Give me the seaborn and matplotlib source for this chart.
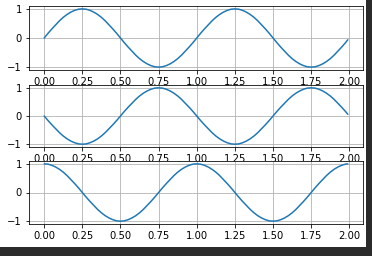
import matplotlib
matplotlib.use("Agg")
import matplotlib.pyplot as plt
from matplotlib.patches import Rectangle
import seaborn as sns
import pandas as pd

# time samples (0 .. 1.975 every 0.025, last at 1.99)
t = [0.0, 0.025, 0.05, 0.075, 0.1, 0.125, 0.15, 0.175, 0.2, 0.225,
     0.25, 0.275, 0.3, 0.325, 0.35, 0.375, 0.4, 0.425, 0.45, 0.475,
     0.5, 0.525, 0.55, 0.575, 0.6, 0.625, 0.65, 0.675, 0.7, 0.725,
     0.75, 0.775, 0.8, 0.825, 0.85, 0.875, 0.9, 0.925, 0.95, 0.975,
     1.0, 1.025, 1.05, 1.075, 1.1, 1.125, 1.15, 1.175, 1.2, 1.225,
     1.25, 1.275, 1.3, 1.325, 1.35, 1.375, 1.4, 1.425, 1.45, 1.475,
     1.5, 1.525, 1.55, 1.575, 1.6, 1.625, 1.65, 1.675, 1.7, 1.725,
     1.75, 1.775, 1.8, 1.825, 1.85, 1.875, 1.9, 1.925, 1.95, 1.975,
     1.99]

top_values = [0.0, 0.16, 0.31, 0.45, 0.59, 0.71, 0.81, 0.89, 0.95, 0.99,
              1.0, 0.99, 0.95, 0.89, 0.81, 0.71, 0.59, 0.45, 0.31, 0.16,
              0.0, -0.16, -0.31, -0.45, -0.59, -0.71, -0.81, -0.89, -0.95, -0.99,
              -1.0, -0.99, -0.95, -0.89, -0.81, -0.71, -0.59, -0.45, -0.31, -0.16,
              0.0, 0.16, 0.31, 0.45, 0.59, 0.71, 0.81, 0.89, 0.95, 0.99,
              1.0, 0.99, 0.95, 0.89, 0.81, 0.71, 0.59, 0.45, 0.31, 0.16,
              0.0, -0.16, -0.31, -0.45, -0.59, -0.71, -0.81, -0.89, -0.95, -0.99,
              -1.0, -0.99, -0.95, -0.89, -0.81, -0.71, -0.59, -0.45, -0.31, -0.16,
              -0.06]

middle_values = [0.0, -0.16, -0.31, -0.45, -0.59, -0.71, -0.81, -0.89, -0.95, -0.99,
                 -1.0, -0.99, -0.95, -0.89, -0.81, -0.71, -0.59, -0.45, -0.31, -0.16,
                 0.0, 0.16, 0.31, 0.45, 0.59, 0.71, 0.81, 0.89, 0.95, 0.99,
                 1.0, 0.99, 0.95, 0.89, 0.81, 0.71, 0.59, 0.45, 0.31, 0.16,
                 0.0, -0.16, -0.31, -0.45, -0.59, -0.71, -0.81, -0.89, -0.95, -0.99,
                 -1.0, -0.99, -0.95, -0.89, -0.81, -0.71, -0.59, -0.45, -0.31, -0.16,
                 0.0, 0.16, 0.31, 0.45, 0.59, 0.71, 0.81, 0.89, 0.95, 0.99,
                 1.0, 0.99, 0.95, 0.89, 0.81, 0.71, 0.59, 0.45, 0.31, 0.16,
                 0.06]

bottom_values = [1.0, 0.99, 0.95, 0.89, 0.81, 0.71, 0.59, 0.45, 0.31, 0.16,
                 0.0, -0.16, -0.31, -0.45, -0.59, -0.71, -0.81, -0.89, -0.95, -0.99,
                 -1.0, -0.99, -0.95, -0.89, -0.81, -0.71, -0.59, -0.45, -0.31, -0.16,
                 0.0, 0.16, 0.31, 0.45, 0.59, 0.71, 0.81, 0.89, 0.95, 0.99,
                 1.0, 0.99, 0.95, 0.89, 0.81, 0.71, 0.59, 0.45, 0.31, 0.16,
                 0.0, -0.16, -0.31, -0.45, -0.59, -0.71, -0.81, -0.89, -0.95, -0.99,
                 -1.0, -0.99, -0.95, -0.89, -0.81, -0.71, -0.59, -0.45, -0.31, -0.16,
                 0.0, 0.16, 0.31, 0.45, 0.59, 0.71, 0.81, 0.89, 0.95, 0.99,
                 1.0]

x_ticks = [0.0, 0.25, 0.5, 0.75, 1.0, 1.25, 1.5, 1.75, 2.0]
y_ticks = [-1, 0, 1]

sns.set_style("ticks")
plt.rcParams["font.family"] = ["DejaVu Sans"]
plt.rcParams["font.size"] = 10

W, H = 372, 256
DPI = 72
fig = plt.figure(figsize=(W / DPI, H / DPI), dpi=DPI)
fig.patch.set_facecolor("#2b2b2b")
fig.patches.append(Rectangle((0, 9 / H), 366 / W, 1 - 9 / H,
                             transform=fig.transFigure, facecolor="white",
                             edgecolor="none", zorder=-10))

# axes boxes in pixels: (top, bottom)
boxes = [(6, 70), (85, 147), (161, 224)]
left_px, right_px = 29, 363
series = [top_values, middle_values, bottom_values]

for (ytop, ybot), vals in zip(boxes, series):
    ax = fig.add_axes([left_px / W, 1 - ybot / H, (right_px - left_px) / W, (ybot - ytop) / H])
    df = pd.DataFrame({"t": t, "v": vals})
    sns.lineplot(data=df, x="t", y="v", ax=ax, color="#1f77b4", linewidth=1.5)
    ax.set_xticks(x_ticks)
    ax.set_yticks(y_ticks)
    ax.set_xlabel("")
    ax.set_ylabel("")
    ax.grid(True, color="#b0b0b0", linewidth=0.8)
    for s in ax.spines.values():
        s.set_visible(True)
        s.set_linewidth(0.8)
        s.set_color("black")
    ax.tick_params(length=3.5, width=0.8, labelsize=10, colors="black")
    ax.set_facecolor("white")

fig.savefig("out.png", dpi=DPI, facecolor=fig.get_facecolor())
